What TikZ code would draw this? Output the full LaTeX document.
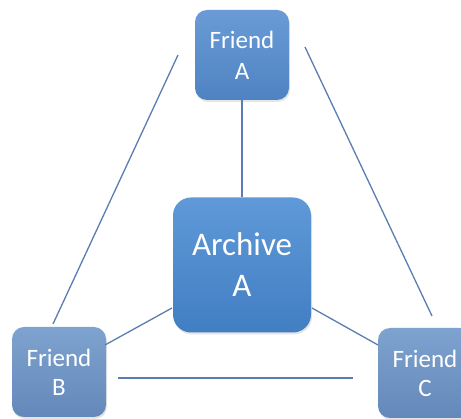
\documentclass[tikz,border=0pt]{standalone}
\usepackage{fontspec}
\setmainfont{Carlito}
\usetikzlibrary{shadows}
\definecolor{linec}{HTML}{5A7DB2}
\definecolor{archtop}{HTML}{5F99D8}
\definecolor{archbot}{HTML}{417EC2}
\definecolor{fatop}{HTML}{6A9BD6}
\definecolor{fabot}{HTML}{4E83C2}
\definecolor{fbtop}{HTML}{7EA3CF}
\definecolor{fbbot}{HTML}{6488B9}
\tikzset{
  box/.style={rounded corners=12pt, text=white, align=center, inner sep=0pt,
    drop shadow={opacity=0.2, shadow xshift=1pt, shadow yshift=-2pt}},
  friendA/.style={box, minimum width=94pt, minimum height=90pt,
    top color=fatop, bottom color=fabot, font=\fontsize{25}{31}\selectfont},
  friendBC/.style={box, minimum width=94pt, minimum height=90pt,
    top color=fbtop, bottom color=fbbot, font=\fontsize{25}{29}\selectfont},
  archive/.style={box, rounded corners=18pt, minimum width=138pt, minimum height=135pt,
    top color=archtop, bottom color=archbot, font=\fontsize{33}{41}\selectfont},
  conn/.style={draw=linec, line width=1.3pt}
}
\begin{document}
\begin{tikzpicture}[x=1pt,y=-1pt]
\clip (0,0) rectangle (461,419);
\fill[white] (0,0) rectangle (461,419);
\node[friendA] (A) at (242,55) {Friend\\A};
\node[archive] (R) at (242,265) {Archive\\A};
\node[friendBC] (B) at (59,372) {Friend\\B};
\node[friendBC] (C) at (425,373) {Friend\\C};
\coordinate (l1) at (178,55);
\coordinate (l2) at (53,324);
\coordinate (r1) at (305,47);
\coordinate (r2) at (432,316);
\coordinate (h1) at (118,378);
\coordinate (h2) at (353,378);
\coordinate (rb) at (172,308);
\coordinate (bb) at (105,345);
\coordinate (rc) at (312,308);
\coordinate (cc) at (378,345);
\draw[conn] (A.south) -- (R.north);
\draw[conn] (l1) -- (l2);
\draw[conn] (r1) -- (r2);
\draw[conn] (h1) -- (h2);
\draw[conn] (rb) -- (bb);
\draw[conn] (rc) -- (cc);
\end{tikzpicture}
\end{document}
